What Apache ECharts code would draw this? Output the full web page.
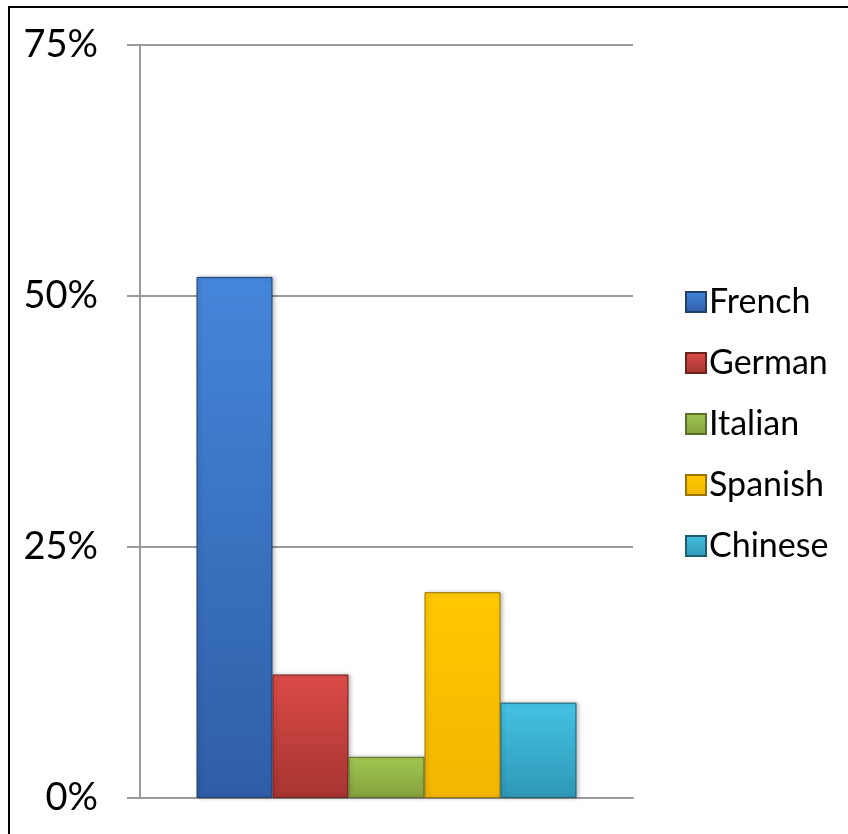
<!DOCTYPE html>
<html>
<head>
<meta charset="utf-8">
<script src="https://cdn.jsdelivr.net/npm/echarts@6/dist/echarts.min.js"></script>
<style>
  html, body { margin: 0; padding: 0; background: #fff; }
  #chart { width: 848px; height: 834px; }
</style>
</head>
<body>
<div id="chart"></div>
<script>
// values (percent of total)
const languages = ['French', 'German', 'Italian', 'Spanish', 'Chinese']
const shares = [51.9, 12.3, 4.1, 20.5, 9.5]
const yTicks = [0, 25, 50, 75]

// top / bottom / outline colours for the bevelled bars
const topColors = ['#4486da', '#dc4b48', '#a2c852', '#ffc800', '#45c2e4']
const bottomColors = ['#2f5ea6', '#a63531', '#849f3c', '#f2b700', '#2e98b6']
const edgeColors = ['#1f3f6e', '#6e2220', '#5a6e28', '#9a7400', '#1d5f72']

const chart = echarts.init(document.getElementById('chart'), null, { renderer: 'canvas' })

const series = languages.map(function (name, i) {
  return {
    name: name,
    type: 'bar',
    barWidth: 76,
    barGap: '0%',
    data: [shares[i]],
    itemStyle: {
      color: new echarts.graphic.LinearGradient(0, 0, 0, 1, [
        { offset: 0, color: topColors[i] },
        { offset: 1, color: bottomColors[i] }
      ]),
      borderColor: edgeColors[i],
      borderWidth: 1,
      shadowColor: 'rgba(0,0,0,0.25)',
      shadowBlur: 4,
      shadowOffsetX: 2
    }
  }
})

const option = {
  animation: false,
  textStyle: { fontFamily: 'Lato' },
  grid: { left: 140, right: 215, top: 45, bottom: 36, containLabel: false },
  legend: {
    orient: 'vertical',
    left: 680,
    top: 280,
    itemWidth: 20,
    itemHeight: 20,
    itemGap: 27,
    icon: 'rect',
    textStyle: { fontSize: 34, color: '#000', fontFamily: 'Lato', padding: [0, 0, 0, -2] },
    data: languages
  },
  xAxis: {
    type: 'category',
    data: [''],
    axisLine: { lineStyle: { color: '#9a9a9a', width: 2 } },
    axisTick: { show: false },
    axisLabel: { show: false }
  },
  yAxis: {
    type: 'value',
    min: yTicks[0],
    max: yTicks[yTicks.length - 1],
    interval: 25,
    axisLine: { show: true, lineStyle: { color: '#9a9a9a', width: 2 } },
    axisTick: { show: true, length: 13, lineStyle: { color: '#9a9a9a', width: 2 } },
    splitLine: { lineStyle: { color: '#9a9a9a', width: 2 } },
    axisLabel: { formatter: '{value}%', fontSize: 38, color: '#000', margin: 42, fontFamily: 'Lato' }
  },
  // frame: only the top and left edges fall inside the picture
  graphic: [
    {
      type: 'polyline',
      shape: { points: [[9, 834], [9, 7], [848, 7]] },
      style: { fill: null, stroke: '#000', lineWidth: 2 },
      silent: true
    }
  ],
  series: series
}

chart.setOption(option)
</script>
</body>
</html>
